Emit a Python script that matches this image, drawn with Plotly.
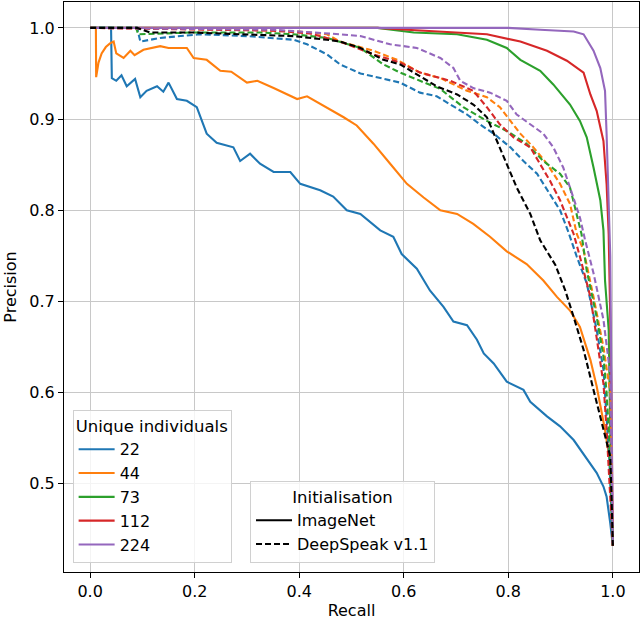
import plotly.graph_objects as go

# class counts / colours
individuals = ['22', '44', '73', '112', '224']
colors = ['#1f77b4', '#ff7f0e', '#2ca02c', '#d62728', '#9467bd']

# ImageNet initialisation (solid)
rec_22_in = [0, 0.040, 0.0415, 0.050, 0.060, 0.070, 0.086, 0.096, 0.108, 0.128, 0.140, 0.150, 0.166,
             0.185, 0.204, 0.223, 0.242, 0.274, 0.287, 0.306, 0.325, 0.351, 0.383, 0.402, 0.440, 0.465,
             0.491, 0.517, 0.555, 0.580, 0.596, 0.625, 0.650, 0.676, 0.695, 0.721, 0.740, 0.753, 0.772,
             0.797, 0.829, 0.842, 0.874, 0.899, 0.925, 0.950, 0.969, 0.982, 0.988, 0.995, 1.0]
prec_22_in = [1.0, 1.0, 0.945, 0.942, 0.948, 0.936, 0.944, 0.924, 0.931, 0.936, 0.930, 0.940, 0.922,
              0.920, 0.913, 0.884, 0.874, 0.869, 0.854, 0.862, 0.851, 0.842, 0.842, 0.829, 0.822, 0.815,
              0.800, 0.796, 0.778, 0.771, 0.752, 0.736, 0.712, 0.694, 0.678, 0.674, 0.658, 0.643, 0.632,
              0.612, 0.603, 0.590, 0.574, 0.563, 0.548, 0.527, 0.512, 0.497, 0.486, 0.457, 0.432]

rec_44_in = [0, 0.011, 0.0115, 0.016, 0.022, 0.030, 0.038, 0.045, 0.050, 0.064, 0.077, 0.085, 0.102,
             0.134, 0.150, 0.185, 0.198, 0.223, 0.249, 0.270, 0.300, 0.320, 0.351, 0.396, 0.415, 0.453,
             0.485, 0.510, 0.542, 0.574, 0.606, 0.638, 0.670, 0.702, 0.733, 0.765, 0.797, 0.835, 0.867,
             0.893, 0.918, 0.937, 0.957, 0.969, 0.985, 0.995, 0.998, 1.0]
prec_44_in = [1.0, 1.0, 0.946, 0.962, 0.972, 0.979, 0.983, 0.985, 0.972, 0.967, 0.975, 0.970, 0.976,
              0.980, 0.978, 0.978, 0.967, 0.965, 0.953, 0.952, 0.940, 0.942, 0.934, 0.922, 0.925, 0.913,
              0.902, 0.893, 0.873, 0.851, 0.829, 0.814, 0.800, 0.796, 0.785, 0.771, 0.755, 0.741, 0.723,
              0.705, 0.690, 0.672, 0.636, 0.607, 0.559, 0.523, 0.486, 0.432]

rec_73_in = [0, 0.55, 0.619, 0.702, 0.759, 0.797, 0.823, 0.861, 0.886, 0.918, 0.937, 0.950, 0.963,
             0.976, 0.982, 0.985, 0.992, 0.995, 1.0]
prec_73_in = [1.0, 1.0, 0.995, 0.993, 0.987, 0.978, 0.965, 0.953, 0.938, 0.916, 0.898, 0.880, 0.847,
              0.811, 0.778, 0.723, 0.669, 0.560, 0.432]

rec_112_in = [0, 0.55, 0.606, 0.670, 0.759, 0.823, 0.874, 0.912, 0.944, 0.957, 0.969, 0.982, 0.988,
              0.992, 0.996, 1.0]
prec_112_in = [1.0, 1.0, 0.998, 0.996, 0.993, 0.985, 0.975, 0.964, 0.951, 0.927, 0.909, 0.876, 0.829,
               0.774, 0.650, 0.432]

rec_224_in = [0, 0.80, 0.861, 0.925, 0.944, 0.963, 0.976, 0.985, 0.988, 0.992, 0.995, 1.0]
prec_224_in = [1.0, 1.0, 0.998, 0.996, 0.993, 0.975, 0.956, 0.931, 0.884, 0.820, 0.750, 0.432]

# DeepSpeak v1.1 initialisation (dashed)
rec_22_ds = [0, 0.09, 0.096, 0.134, 0.210, 0.300, 0.389, 0.415, 0.453, 0.478, 0.517, 0.555, 0.593,
             0.631, 0.663, 0.689, 0.721, 0.746, 0.772, 0.804, 0.829, 0.855, 0.880, 0.899, 0.915, 0.931,
             0.950, 0.969, 0.982, 0.988, 0.993, 1.0]
prec_22_ds = [1.0, 1.0, 0.985, 0.989, 0.993, 0.991, 0.987, 0.982, 0.971, 0.960, 0.950, 0.945, 0.940,
              0.929, 0.925, 0.916, 0.905, 0.894, 0.884, 0.869, 0.854, 0.840, 0.818, 0.800, 0.776, 0.749,
              0.720, 0.669, 0.625, 0.578, 0.530, 0.432]

rec_44_ds = [0, 0.30, 0.40, 0.453, 0.478, 0.542, 0.587, 0.631, 0.670, 0.721, 0.759, 0.784, 0.804,
             0.823, 0.848, 0.874, 0.899, 0.918, 0.931, 0.944, 0.963, 0.982, 0.995, 1.0]
prec_44_ds = [1.0, 0.998, 0.996, 0.993, 0.985, 0.975, 0.965, 0.951, 0.945, 0.931, 0.924, 0.913, 0.898,
              0.884, 0.869, 0.851, 0.829, 0.807, 0.774, 0.756, 0.705, 0.650, 0.600, 0.432]

rec_73_ds = [0, 0.088, 0.092, 0.198, 0.325, 0.389, 0.453, 0.478, 0.517, 0.561, 0.593, 0.631, 0.670,
             0.714, 0.759, 0.797, 0.835, 0.867, 0.899, 0.918, 0.931, 0.940, 0.950, 0.969, 0.982, 0.988,
             0.993, 1.0]
prec_73_ds = [1.0, 1.0, 0.993, 0.995, 0.995, 0.993, 0.989, 0.985, 0.978, 0.960, 0.951, 0.942, 0.933,
              0.913, 0.898, 0.887, 0.873, 0.854, 0.840, 0.825, 0.796, 0.774, 0.734, 0.683, 0.640, 0.600,
              0.550, 0.432]

rec_112_ds = [0, 0.35, 0.42, 0.478, 0.542, 0.593, 0.631, 0.689, 0.733, 0.759, 0.784, 0.810, 0.842,
              0.861, 0.880, 0.899, 0.925, 0.937, 0.957, 0.969, 0.982, 0.988, 1.0]
prec_112_ds = [1.0, 0.997, 0.994, 0.985, 0.971, 0.962, 0.951, 0.942, 0.931, 0.913, 0.894, 0.880, 0.869,
               0.851, 0.832, 0.811, 0.774, 0.749, 0.705, 0.660, 0.610, 0.560, 0.432]

rec_224_ds = [0, 0.35, 0.478, 0.517, 0.574, 0.625, 0.670, 0.695, 0.708, 0.733, 0.765, 0.797, 0.816,
              0.842, 0.867, 0.886, 0.905, 0.918, 0.937, 0.947, 0.963, 0.982, 0.995, 1.0]
prec_224_ds = [1.0, 0.998, 0.993, 0.991, 0.982, 0.978, 0.967, 0.956, 0.942, 0.934, 0.929, 0.920, 0.905,
               0.894, 0.884, 0.869, 0.847, 0.825, 0.792, 0.767, 0.731, 0.680, 0.620, 0.432]

# black dashed curve
rec_black = [0, 0.09, 0.115, 0.198, 0.287, 0.389, 0.453, 0.478, 0.517, 0.561, 0.593, 0.631, 0.663,
             0.702, 0.733, 0.759, 0.778, 0.797, 0.816, 0.842, 0.861, 0.890, 0.909, 0.925, 0.944, 0.963,
             0.982, 0.995, 0.997, 1.0]
prec_black = [1.0, 1.0, 0.995, 0.995, 0.993, 0.991, 0.987, 0.985, 0.978, 0.965, 0.960, 0.947, 0.936,
              0.927, 0.916, 0.902, 0.876, 0.851, 0.825, 0.796, 0.767, 0.740, 0.712, 0.683, 0.647, 0.603,
              0.559, 0.530, 0.495, 0.432]

solid = [(rec_22_in, prec_22_in), (rec_44_in, prec_44_in), (rec_73_in, prec_73_in),
         (rec_112_in, prec_112_in), (rec_224_in, prec_224_in)]
dashed = [(rec_22_ds, prec_22_ds), (rec_44_ds, prec_44_ds), (rec_73_ds, prec_73_ds),
          (rec_112_ds, prec_112_ds), (rec_224_ds, prec_224_ds)]

LW = 2.1
DASH = '6px,3px'

fig = go.Figure()
for name, col, (x, y) in zip(individuals, colors, solid):
    fig.add_trace(go.Scatter(x=x, y=y, mode='lines', name=name, legend='legend',
                             line=dict(color=col, width=LW)))
for name, col, (x, y) in zip(individuals, colors, dashed):
    fig.add_trace(go.Scatter(x=x, y=y, mode='lines', showlegend=False,
                             line=dict(color=col, width=LW, dash=DASH)))
fig.add_trace(go.Scatter(x=rec_black, y=prec_black, mode='lines', showlegend=False,
                         line=dict(color='black', width=LW, dash=DASH)))

# legend handles for initialisation
fig.add_trace(go.Scatter(x=[None], y=[None], mode='lines', name='ImageNet', legend='legend2',
                         line=dict(color='black', width=LW)))
fig.add_trace(go.Scatter(x=[None], y=[None], mode='lines', name='DeepSpeak v1.1', legend='legend2',
                         line=dict(color='black', width=LW, dash=DASH)))

axis_common = dict(showline=True, linecolor='black', linewidth=1.2, mirror=True,
                   ticks='outside', ticklen=5, tickwidth=1.2, tickcolor='black',
                   showgrid=True, gridcolor='#c8c8c8', gridwidth=1.3, zeroline=False,
                   automargin=False,
                   tickformat='.1f', tickfont=dict(size=16, color='black'))

fig.update_layout(
    width=640, height=622,
    margin=dict(l=64, r=1, t=2, b=50),
    plot_bgcolor='white', paper_bgcolor='white',
    font=dict(family='DejaVu Sans', size=16, color='black'),
    xaxis=dict(range=[-0.05, 1.05], dtick=0.2,
               title=dict(text='Recall', standoff=4, font=dict(size=16)), **axis_common),
    yaxis=dict(range=[0.4033, 1.0284], dtick=0.1,
               title=dict(text='Precision', standoff=8, font=dict(size=16)), **axis_common),
    legend=dict(title=dict(text='Unique individuals', font=dict(size=16.5)),
                x=0.015, y=0.016, xanchor='left', yanchor='bottom',
                bgcolor='rgba(255,255,255,0.8)', bordercolor='#d0d0d0', borderwidth=1,
                font=dict(size=16), itemwidth=36, tracegroupgap=0),
    legend2=dict(title=dict(text='Initialisation', font=dict(size=16.5), side='top center'),
                 x=0.3235, y=0.016, xanchor='left', yanchor='bottom',
                 bgcolor='rgba(255,255,255,0.8)', bordercolor='#d0d0d0', borderwidth=1,
                 font=dict(size=16), itemwidth=36, tracegroupgap=0),
)

fig.write_html("out.html", config={'displayModeBar': False},
               post_script="document.body.style.margin='0px';")
